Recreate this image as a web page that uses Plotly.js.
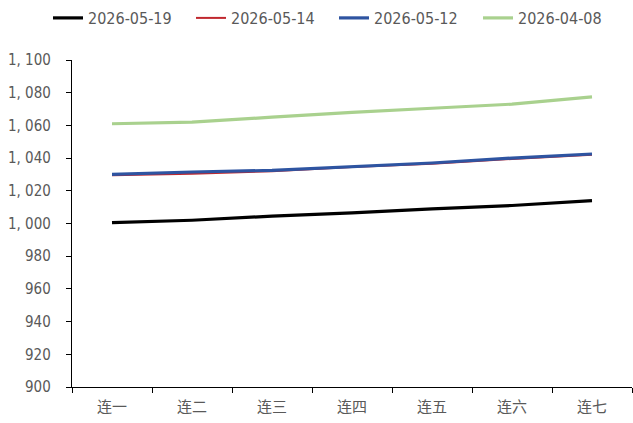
<!DOCTYPE html>
<html><head><meta charset="utf-8">
<script src="https://cdn.plot.ly/plotly-3.0.1.min.js"></script>
<style>html,body{margin:0;padding:0;background:#fff}#chart{width:633px;height:423px}</style>
</head><body><div id="chart"></div>
<script>
const categories = ["连一","连二","连三","连四","连五","连六","连七"];
const seriesNames = ["2026-05-19","2026-05-14","2026-05-12","2026-04-08"];
const s0519 = [1000.5, 1002, 1004.5, 1006.5, 1009, 1011, 1014];
const s0514 = [1029.5, 1030.5, 1032, 1034.5, 1036.5, 1039.5, 1042];
const s0512 = [1030, 1031.5, 1032.5, 1035, 1037, 1040, 1042.5];
const s0408 = [1061, 1062, 1065, 1068, 1070.5, 1073, 1077.5];
const yTickVals = [900,920,940,960,980,1000,1020,1040,1060,1080,1100];
const yTickText = ["900","920","940","960","980","1, 000","1, 020","1, 040","1, 060","1, 080","1, 100"];

const colors = ["#000000","#C0282E","#2E54A1","#A9D18E"];
const widths = [3.2, 2, 3.2, 3.2];
const legendIds = ["legend","legend2","legend3","legend4"];
const legendLeft = [48, 191, 334, 478];
const data = [s0519, s0514, s0512, s0408].map((v,i)=>({
  type:"scatter", mode:"lines", x:categories, y:v, name:seriesNames[i],
  line:{color:colors[i], width:widths[i]}, legend:legendIds[i]
}));
const tickFont = {family:"DejaVu Sans Condensed, Liberation Sans Narrow, sans-serif", size:15, color:"#595959"};
const layout = {
  width:633, height:423,
  margin:{l:72, r:1, t:60, b:36},
  paper_bgcolor:"#fff", plot_bgcolor:"#fff",
  showlegend:true,
  xaxis:{type:"category", showline:true, linecolor:"#000", linewidth:1.2, ticks:"outside", tickson:"boundaries",
    ticklen:5, tickcolor:"#000", showgrid:false, zeroline:false, range:[-0.5,6.5],
    tickfont:{family:"Noto Sans CJK SC, sans-serif", size:15, color:"#595959"}, ticklabelstandoff:6},
  yaxis:{range:[900,1100], showline:true, linecolor:"#000", linewidth:1.2, ticks:"outside", ticklen:5, tickcolor:"#000",
    tickvals:yTickVals, ticktext:yTickText, showgrid:false, zeroline:false, tickfont:tickFont, ticklabelstandoff:12}
};
legendIds.forEach((id,i)=>{
  layout[id] = {orientation:"h", xref:"container", yref:"container", x:legendLeft[i]/633, xanchor:"left",
    y:1-18/423, yanchor:"middle", bgcolor:"rgba(0,0,0,0)",
    font:{family:"DejaVu Sans Condensed, sans-serif", size:16, color:"#595959"}, itemwidth:30};
});
Plotly.newPlot("chart", data, layout, {displayModeBar:false, staticPlot:true});
</script></body></html>
